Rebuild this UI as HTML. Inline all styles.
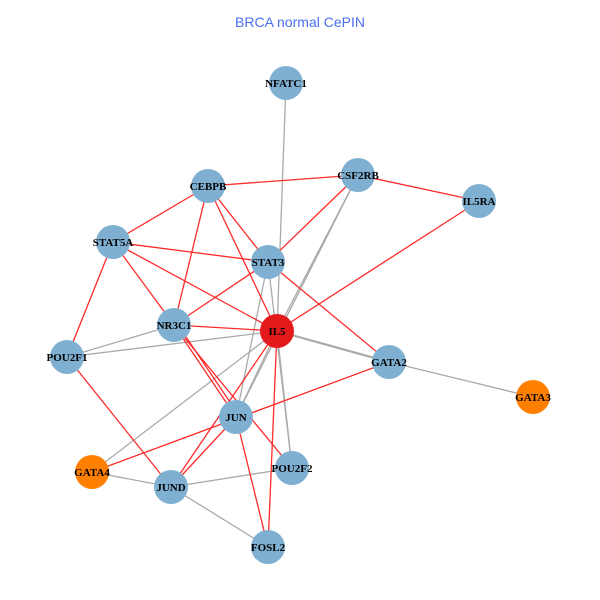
<!DOCTYPE html>
<html><head><style>body{margin:0;background:#fff}svg{display:block}</style></head><body>
<svg width="600" height="600" xmlns="http://www.w3.org/2000/svg">
<rect width="600" height="600" fill="#fff"/>
<text x="300" y="27" text-anchor="middle" font-family="Liberation Sans, sans-serif" font-size="14" fill="#4a6ef0">BRCA normal CePIN</text>
<g stroke="#aaaaaa" stroke-width="1.3">
<line x1="286" y1="83" x2="277" y2="331"/>
<line x1="358" y1="175" x2="277" y2="331"/>
<line x1="358" y1="175" x2="236" y2="417"/>
<line x1="268" y1="262" x2="236" y2="417"/>
<line x1="268" y1="262" x2="292" y2="468"/>
<line x1="277" y1="331" x2="236" y2="417"/>
<line x1="277" y1="331" x2="292" y2="468"/>
<line x1="277" y1="331" x2="67" y2="357"/>
<line x1="174" y1="325" x2="67" y2="357"/>
<line x1="277" y1="331" x2="389" y2="362" stroke-width="2.2"/>
<line x1="389" y1="362" x2="533" y2="397"/>
<line x1="277" y1="331" x2="92" y2="472"/>
<line x1="92" y1="472" x2="171" y2="487"/>
<line x1="171" y1="487" x2="292" y2="468"/>
<line x1="171" y1="487" x2="268" y2="547"/>
</g>
<g stroke="#ff2a2a" stroke-width="1.3">
<line x1="208" y1="186" x2="358" y2="175"/>
<line x1="358" y1="175" x2="479" y2="201"/>
<line x1="479" y1="201" x2="277" y2="331"/>
<line x1="358" y1="175" x2="268" y2="262"/>
<line x1="208" y1="186" x2="113" y2="242"/>
<line x1="208" y1="186" x2="174" y2="325"/>
<line x1="208" y1="186" x2="268" y2="262"/>
<line x1="208" y1="186" x2="277" y2="331"/>
<line x1="113" y1="242" x2="268" y2="262"/>
<line x1="113" y1="242" x2="174" y2="325"/>
<line x1="113" y1="242" x2="277" y2="331"/>
<line x1="113" y1="242" x2="67" y2="357"/>
<line x1="268" y1="262" x2="174" y2="325"/>
<line x1="268" y1="262" x2="389" y2="362"/>
<line x1="174" y1="325" x2="277" y2="331"/>
<line x1="174" y1="325" x2="236" y2="417"/>
<line x1="178" y1="325" x2="240" y2="417"/>
<line x1="174" y1="325" x2="292" y2="468"/>
<line x1="67" y1="357" x2="171" y2="487"/>
<line x1="389" y1="362" x2="92" y2="472"/>
<line x1="236" y1="417" x2="171" y2="487"/>
<line x1="277" y1="331" x2="171" y2="487"/>
<line x1="236" y1="417" x2="268" y2="547"/>
<line x1="277" y1="331" x2="268" y2="547"/>
</g>
<g fill="#7fb0d2">
<circle cx="286" cy="83" r="17"/>
<circle cx="208" cy="186" r="17"/>
<circle cx="358" cy="175" r="17"/>
<circle cx="479" cy="201" r="17"/>
<circle cx="113" cy="242" r="17"/>
<circle cx="268" cy="262" r="17"/>
<circle cx="174" cy="325" r="17"/>
<circle cx="67" cy="357" r="17"/>
<circle cx="389" cy="362" r="17"/>
<circle cx="236" cy="417" r="17"/>
<circle cx="292" cy="468" r="17"/>
<circle cx="171" cy="487" r="17"/>
<circle cx="268" cy="547" r="17"/>
</g>
<circle cx="277" cy="331" r="17" fill="#e3191c"/>
<circle cx="533" cy="397" r="17" fill="#ff7f00"/>
<circle cx="92" cy="472" r="17" fill="#ff7f00"/>
<g font-family="Liberation Serif, serif" font-weight="bold" font-size="11" text-anchor="middle" fill="#000">
<text x="286" y="87">NFATC1</text>
<text x="208" y="190">CEBPB</text>
<text x="358" y="179">CSF2RB</text>
<text x="479" y="205">IL5RA</text>
<text x="113" y="246">STAT5A</text>
<text x="268" y="266">STAT3</text>
<text x="174" y="329">NR3C1</text>
<text x="277" y="335">IL5</text>
<text x="67" y="361">POU2F1</text>
<text x="389" y="366">GATA2</text>
<text x="533" y="401">GATA3</text>
<text x="236" y="421">JUN</text>
<text x="92" y="476">GATA4</text>
<text x="292" y="472">POU2F2</text>
<text x="171" y="491">JUND</text>
<text x="268" y="551">FOSL2</text>
</g>
</svg>
</body></html>
